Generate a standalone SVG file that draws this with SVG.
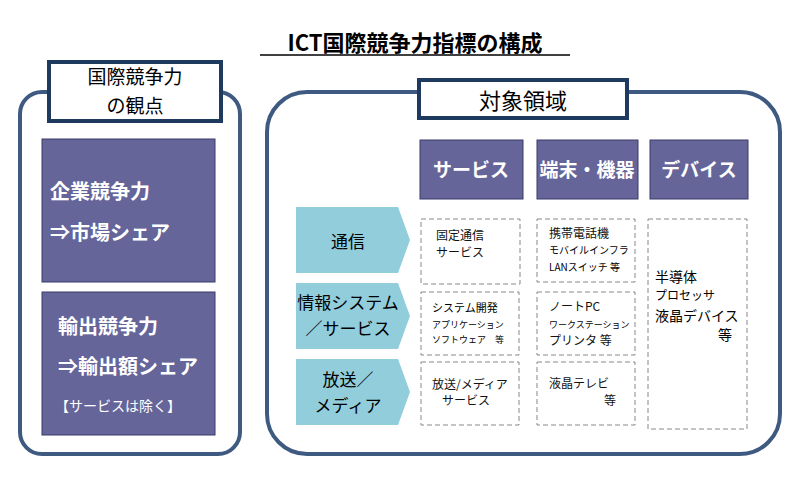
<svg xmlns="http://www.w3.org/2000/svg" width="801" height="483" viewBox="0 0 801 483">
<style>
text{font-family:"Noto Sans CJK JP","Noto Sans CJK SC",sans-serif;}
.outer{fill:#fff;stroke:#3E5A80;stroke-width:4}
.tbox{fill:#fff;stroke:#1F3A5F;stroke-width:4}
.pur{fill:#65659A;stroke:#3A3A6A;stroke-width:1}
.wt{fill:#fff;font-weight:bold}
.arr{fill:#92CDDC}
.dash{fill:#fff;stroke:#888;stroke-width:1;stroke-dasharray:5,3}
.s{font-size:12px;fill:#111}
</style>
<rect width="801" height="483" fill="#fff"/>
<text x="415" y="51" font-size="22" font-weight="bold" text-anchor="middle">ICT国際競争力指標の構成</text>
<line x1="260" y1="55" x2="570" y2="55" stroke="#000" stroke-width="1.5"/>
<g id="left">
<rect class="outer" x="20" y="92" width="220" height="362" rx="22"/>
<rect class="tbox" x="49" y="62" width="172" height="59"/>
<text x="135" y="84" font-size="19" text-anchor="middle">国際競争力</text>
<text x="135" y="113" font-size="19" text-anchor="middle">の観点</text>
</g>
<g id="kigyo"><rect class="pur" x="42" y="139" width="173" height="143"/>
<text class="wt" x="50" y="199" font-size="20">企業競争力</text>
<text class="wt" x="50" y="240" font-size="20">⇒市場シェア</text></g>
<g id="yushutsu"><rect class="pur" x="42" y="292" width="173" height="143"/>
<text class="wt" x="58" y="334" font-size="20">輸出競争力</text>
<text class="wt" x="58" y="374" font-size="20">⇒輸出額シェア</text>
<text x="55" y="411" font-size="14" fill="#fff">【サービスは除く】</text></g>
<g id="right">
<rect class="outer" x="267" y="92" width="513" height="362" rx="40"/>
<rect class="tbox" x="419" y="80" width="208" height="38"/>
<text x="523" y="109" font-size="22" text-anchor="middle">対象領域</text>
</g>
<g id="h1"><rect class="pur" x="420" y="140" width="103" height="59"/><text class="wt" x="471" y="177" font-size="19" text-anchor="middle">サービス</text></g>
<g id="h2"><rect class="pur" x="537" y="140" width="101" height="59"/><text class="wt" x="587" y="177" font-size="19" text-anchor="middle">端末・機器</text></g>
<g id="h3"><rect class="pur" x="650" y="140" width="98" height="59"/><text class="wt" x="699" y="177" font-size="19" text-anchor="middle">デバイス</text></g>
<g id="a1"><polygon class="arr" points="296,207 398,207 410,240 398,273 296,273"/><text x="348" y="248" font-size="17" text-anchor="middle">通信</text></g>
<g id="a2"><polygon class="arr" points="296,283 398,283 410,316 398,349 296,349"/><text x="348" y="309" font-size="17" text-anchor="middle">情報システム</text><text x="348" y="335" font-size="17" text-anchor="middle">／サービス</text></g>
<g id="a3"><polygon class="arr" points="296,359 398,359 410,392 398,425 296,425"/><text x="348" y="386" font-size="17" text-anchor="middle">放送／</text><text x="348" y="412" font-size="17" text-anchor="middle">メディア</text></g>
<g id="c11"><rect class="dash" x="421" y="219" width="99" height="65"/><text class="s" x="436" y="240">固定通信</text><text class="s" x="436" y="257">サービス</text></g>
<g id="c12"><rect class="dash" x="421" y="292" width="98" height="63"/><text x="432" y="312" font-size="11">システム開発</text><text x="432" y="328" font-size="9">アプリケーション</text><text x="432" y="343" font-size="9">ソフトウェア　等</text></g>
<g id="c13"><rect class="dash" x="421" y="362" width="98" height="63"/><text class="s" x="432" y="389">放送/メディア</text><text class="s" x="442" y="405">サービス</text></g>
<g id="c21"><rect class="dash" x="537" y="219" width="98" height="63"/><text class="s" x="549" y="238">携帯電話機</text><text x="549" y="254" font-size="10">モバイルインフラ</text><text x="549" y="271" font-size="10">LANスイッチ 等</text></g>
<g id="c22"><rect class="dash" x="537" y="292" width="98" height="63"/><text class="s" x="549" y="311">ノートPC</text><text x="549" y="328" font-size="9">ワークステーション</text><text class="s" x="549" y="345">プリンタ 等</text></g>
<g id="c23"><rect class="dash" x="537" y="362" width="98" height="63"/><text class="s" x="549" y="388">液晶テレビ</text><text class="s" x="604" y="405">等</text></g>
<g id="c31"><rect class="dash" x="648" y="219" width="99" height="210"/><text x="655" y="282" font-size="14">半導体</text><text x="655" y="300" font-size="12">プロセッサ</text><text x="655" y="321" font-size="14">液晶デバイス</text><text x="718" y="340" font-size="14">等</text></g>
<g id="connectors"/>
</svg>
